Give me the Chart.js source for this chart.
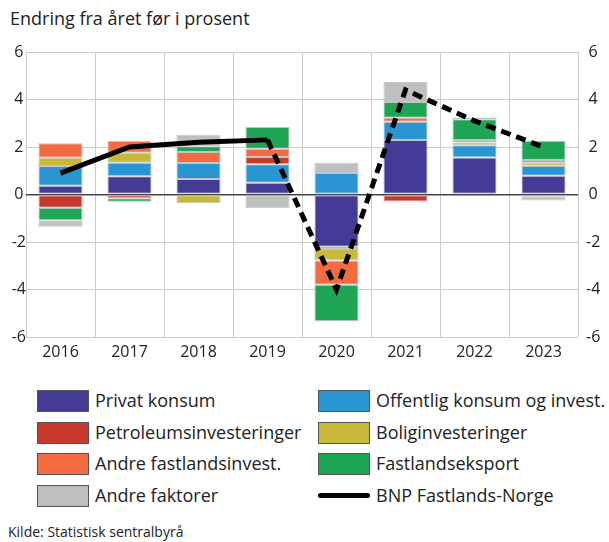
<!DOCTYPE html>
<html>
<head>
<meta charset="utf-8">
<script src="https://cdn.jsdelivr.net/npm/chart.js@4"></script>
<style>
  body { margin: 0; width: 609px; height: 542px; position: relative; font-family: 'Open Sans', sans-serif; color: #222; background: #fff; overflow: hidden; }
  .subtitle { position: absolute; left: 10px; top: 6px; font-size: 18px; }
  .chart { position: absolute; left: 0; top: 0; width: 609px; height: 372px; }
  .legend { position: absolute; left: 0; top: 0; font-size: 18px; }
  .item { position: absolute; height: 22px; line-height: 22px; white-space: nowrap; }
  .swatch { position: absolute; left: 0; top: 0; width: 50px; height: 20px; border: 1px solid #555; }
  .lineswatch { position: absolute; left: 0; top: 8px; width: 52px; height: 5px; border-radius: 3px; background: #000; }
  .item span.label { position: absolute; left: 58px; top: -1px; }
  .source { position: absolute; left: 8px; top: 522px; font-size: 14px; }
</style>
</head>
<body>
<div class="subtitle">Endring fra året før i prosent</div>
<div class="chart"><canvas id="chart" width="609" height="372"></canvas></div>
<div class="legend" id="legend"></div>
<div class="source">Kilde: Statistisk sentralbyrå</div>
<script>
const years = ['2016', '2017', '2018', '2019', '2020', '2021', '2022', '2023']
const yTicks = [-6, -4, -2, 0, 2, 4, 6]

// bidrag i prosentpoeng, i stablingsrekkefølge
const privatKonsum = [0.37, 0.77, 0.65, 0.50, -2.20, 2.29, 1.56, 0.79]
const offentlig = [0.83, 0.57, 0.68, 0.77, 0.91, 0.77, 0.51, 0.42]
const petroleum = [-0.56, -0.16, 0, 0.31, -0.09, -0.29, -0.04, -0.07]
const bolig = [0.35, 0.42, -0.37, 0, -0.49, -0.05, 0.12, 0.13]
const andreFastland = [0.61, 0.49, 0.46, 0.35, -1.02, 0.17, 0.10, 0.11]
const eksport = [-0.52, -0.14, 0.24, 0.91, -1.54, 0.67, 0.88, 0.81]
const andreFaktorer = [-0.28, 0, 0.49, -0.58, 0.43, 0.84, 0.07, -0.18]
const bnp = [0.9, 2.0, 2.2, 2.3, -4.0, 4.4, 3.1, 2.0]

const series = [
  { label: 'Privat konsum', data: privatKonsum, color: '#433b96' },
  { label: 'Offentlig konsum og invest.', data: offentlig, color: '#2a95d3' },
  { label: 'Petroleumsinvesteringer', data: petroleum, color: '#c63b2e' },
  { label: 'Boliginvesteringer', data: bolig, color: '#c9b83a' },
  { label: 'Andre fastlandsinvest.', data: andreFastland, color: '#f26b43' },
  { label: 'Fastlandseksport', data: eksport, color: '#20a456' },
  { label: 'Andre faktorer', data: andreFaktorer, color: '#bdbfc1' }
]

const barSets = series.map((s) => ({
  type: 'bar',
  label: s.label,
  data: s.data,
  backgroundColor: s.color,
  borderColor: 'rgba(190,190,190,0.9)',
  borderWidth: 1,
  borderSkipped: false,
  categoryPercentage: 1,
  barPercentage: 0.64,
  stack: 'bidrag',
  order: 1
}))

const lineSet = {
  type: 'line',
  label: 'BNP Fastlands-Norge',
  data: bnp,
  borderColor: '#000',
  borderWidth: 5,
  pointRadius: 0,
  stack: 'bnp',
  order: 0,
  segment: {
    borderDash: (ctx) => ctx.p0DataIndex >= 3 ? [10, 6] : undefined
  }
}

const tickFont = { family: "'Open Sans', sans-serif", size: 16 }

new Chart(document.getElementById('chart'), {
  data: { labels: years, datasets: [...barSets, lineSet] },
  options: {
    responsive: false,
    animation: false,
    devicePixelRatio: 1,
    layout: { padding: { top: 52, bottom: 0, left: 0, right: 0 } },
    plugins: { legend: { display: false }, tooltip: { enabled: false } },
    scales: {
      x: {
        stacked: true,
        offset: true,
        grid: { color: '#cccccc', lineWidth: 1, drawTicks: false, offset: true },
        border: { display: false },
        ticks: { color: '#222', font: tickFont, padding: 6, maxRotation: 0 },
        afterFit: (s) => { s.height = 35 }
      },
      y: {
        position: 'left',
        stacked: true,
        min: -6,
        max: 6,
        afterBuildTicks: (s) => { s.ticks = yTicks.map((v) => ({ value: v })) },
        grid: {
          color: (c) => c.tick && c.tick.value === 0 ? '#444' : '#cccccc',
          lineWidth: (c) => c.tick && c.tick.value === 0 ? 1.5 : 1,
          drawTicks: false
        },
        border: { display: false },
        ticks: { color: '#222', font: tickFont, padding: 0, crossAlign: 'center' },
        afterFit: (s) => { s.width = 26 }
      },
      y2: {
        position: 'right',
        min: -6,
        max: 6,
        afterBuildTicks: (s) => { s.ticks = yTicks.map((v) => ({ value: v })) },
        grid: { display: false },
        border: { display: false },
        ticks: { color: '#222', font: tickFont, padding: 0, crossAlign: 'center' },
        afterFit: (s) => { s.width = 31 }
      }
    }
  }
})

// tegnforklaring
const legendRows = [
  [series[0], series[1]],
  [series[2], series[3]],
  [series[4], series[5]],
  [series[6], null]
]
const legend = document.getElementById('legend')
legendRows.forEach((row, i) => {
  row.forEach((s, j) => {
    const item = document.createElement('div')
    item.className = 'item'
    item.style.left = (j === 0 ? 37 : 318) + 'px'
    item.style.top = (390 + i * 31.5) + 'px'
    const mark = s
      ? `<div class="swatch" style="background:${s.color}"></div>`
      : '<div class="lineswatch"></div>'
    item.innerHTML = mark + `<span class="label">${s ? s.label : lineSet.label}</span>`
    legend.appendChild(item)
  })
})
</script>
</body>
</html>
